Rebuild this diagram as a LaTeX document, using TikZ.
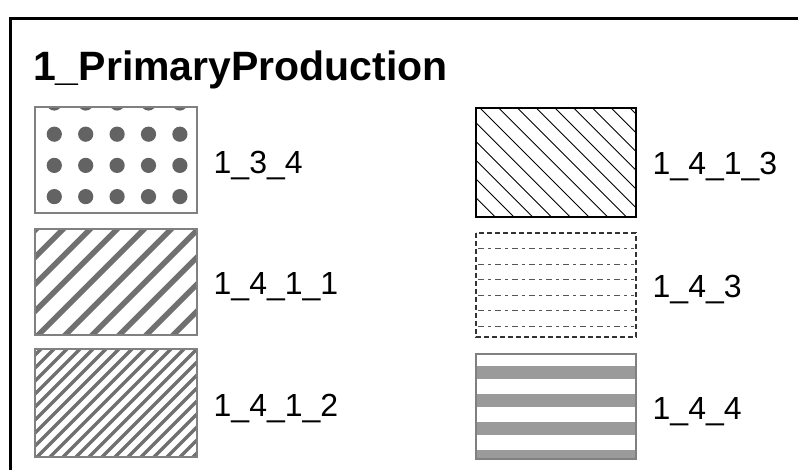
\documentclass[tikz,border=0pt]{standalone}
\usepackage{fontspec}
\setmainfont{Liberation Sans}
\begin{document}
\begin{tikzpicture}[x=1pt,y=-1pt,
  swatch/.style={draw=swgray,line width=1.8pt},
  lbl/.style={anchor=base west,inner sep=0pt,font=\fontsize{32}{32}\selectfont},
  ttl/.style={anchor=base west,inner sep=0pt,font=\bfseries\fontsize{41}{41}\selectfont}]
\definecolor{swgray}{HTML}{808080}
\definecolor{dotgray}{HTML}{636363}
\definecolor{stripegray}{HTML}{707070}
\definecolor{bandgray}{HTML}{9A9A9A}
\definecolor{dashgray}{HTML}{555555}
\useasboundingbox (0,0) rectangle (798,470);
\fill[white] (0,0) rectangle (798,470);

% outer frame (continues past the right and bottom edges)
\draw[line width=3pt] (10.7,480) -- (10.7,19) -- (810,19);

% title
\node[ttl] (title) at (33,81) {1\_PrimaryProduction};

% swatch 1_3_4 : dot grid
\begin{scope}
  \clip (35,107) rectangle (197,213);
  \foreach \r in {0,...,3}
    \foreach \c in {0,...,4}
      \fill[dotgray] ({54.3+31.4*\c},{103+31.2*\r}) circle (7.6);
\end{scope}
\draw[swatch] (35,107) rectangle (197,213);

% swatch 1_4_1_1 : wide diagonal stripes
\begin{scope}
  \clip (35,229) rectangle (197,335);
  \foreach \k in {-2,...,10}{
    \pgfmathsetmacro\cc{292.3+27*\k}
    \draw[stripegray,line width=5.5pt] ({15},{\cc-15}) -- ({217},{\cc-217});
  }
\end{scope}
\draw[swatch] (35,229) rectangle (197,335);

% swatch 1_4_1_2 : narrow diagonal stripes
\begin{scope}
  \clip (35,349) rectangle (197,457);
  \foreach \k in {-2,...,22}{
    \pgfmathsetmacro\cc{390+13*\k}
    \draw[stripegray,line width=3.2pt] ({15},{\cc-15}) -- ({217},{\cc-217});
  }
\end{scope}
\draw[swatch] (35,349) rectangle (197,457);

% swatch 1_4_1_3 : thin black back-diagonal lines
\begin{scope}
  \clip (476,108) rectangle (636,216.7);
  \foreach \k in {-10,...,8}{
    \pgfmathsetmacro\cc{-372+18.75*\k}
    \draw[black,line width=1pt] ({456},{456+\cc}) -- ({656},{656+\cc});
  }
\end{scope}
\draw[black,line width=1.8pt] (476,108) rectangle (636,216.7);

% swatch 1_4_3 : dashed horizontal lines
\foreach \k in {1,...,6}
  \draw[dashgray,line width=1pt,dash pattern=on 6pt off 4pt on 3pt off 4pt]
    (478,{233+15.6*\k}) -- (634,{233+15.6*\k});
\draw[black!80,line width=1.6pt,dash pattern=on 5pt off 3pt] (476,233) rectangle (636,337);

% swatch 1_4_4 : horizontal bands
\begin{scope}
  \clip (476,354) rectangle (636,459);
  \foreach \k in {0,...,3}
    \fill[bandgray] (470,{366+28*\k}) rectangle (640,{379+28*\k});
\end{scope}
\draw[swatch] (476,354) rectangle (636,459);

% labels
\node[lbl] (l134)  at (213.5,173.5) {1\_3\_4};
\node[lbl] (l1411) at (213.5,295)   {1\_4\_1\_1};
\node[lbl] (l1412) at (213.5,416.7) {1\_4\_1\_2};
\node[lbl] (l1413) at (652.5,175)   {1\_4\_1\_3};
\node[lbl] (l143)  at (652.5,297.5) {1\_4\_3};
\node[lbl] (l144)  at (652.5,419.5) {1\_4\_4};
\end{tikzpicture}
\end{document}
